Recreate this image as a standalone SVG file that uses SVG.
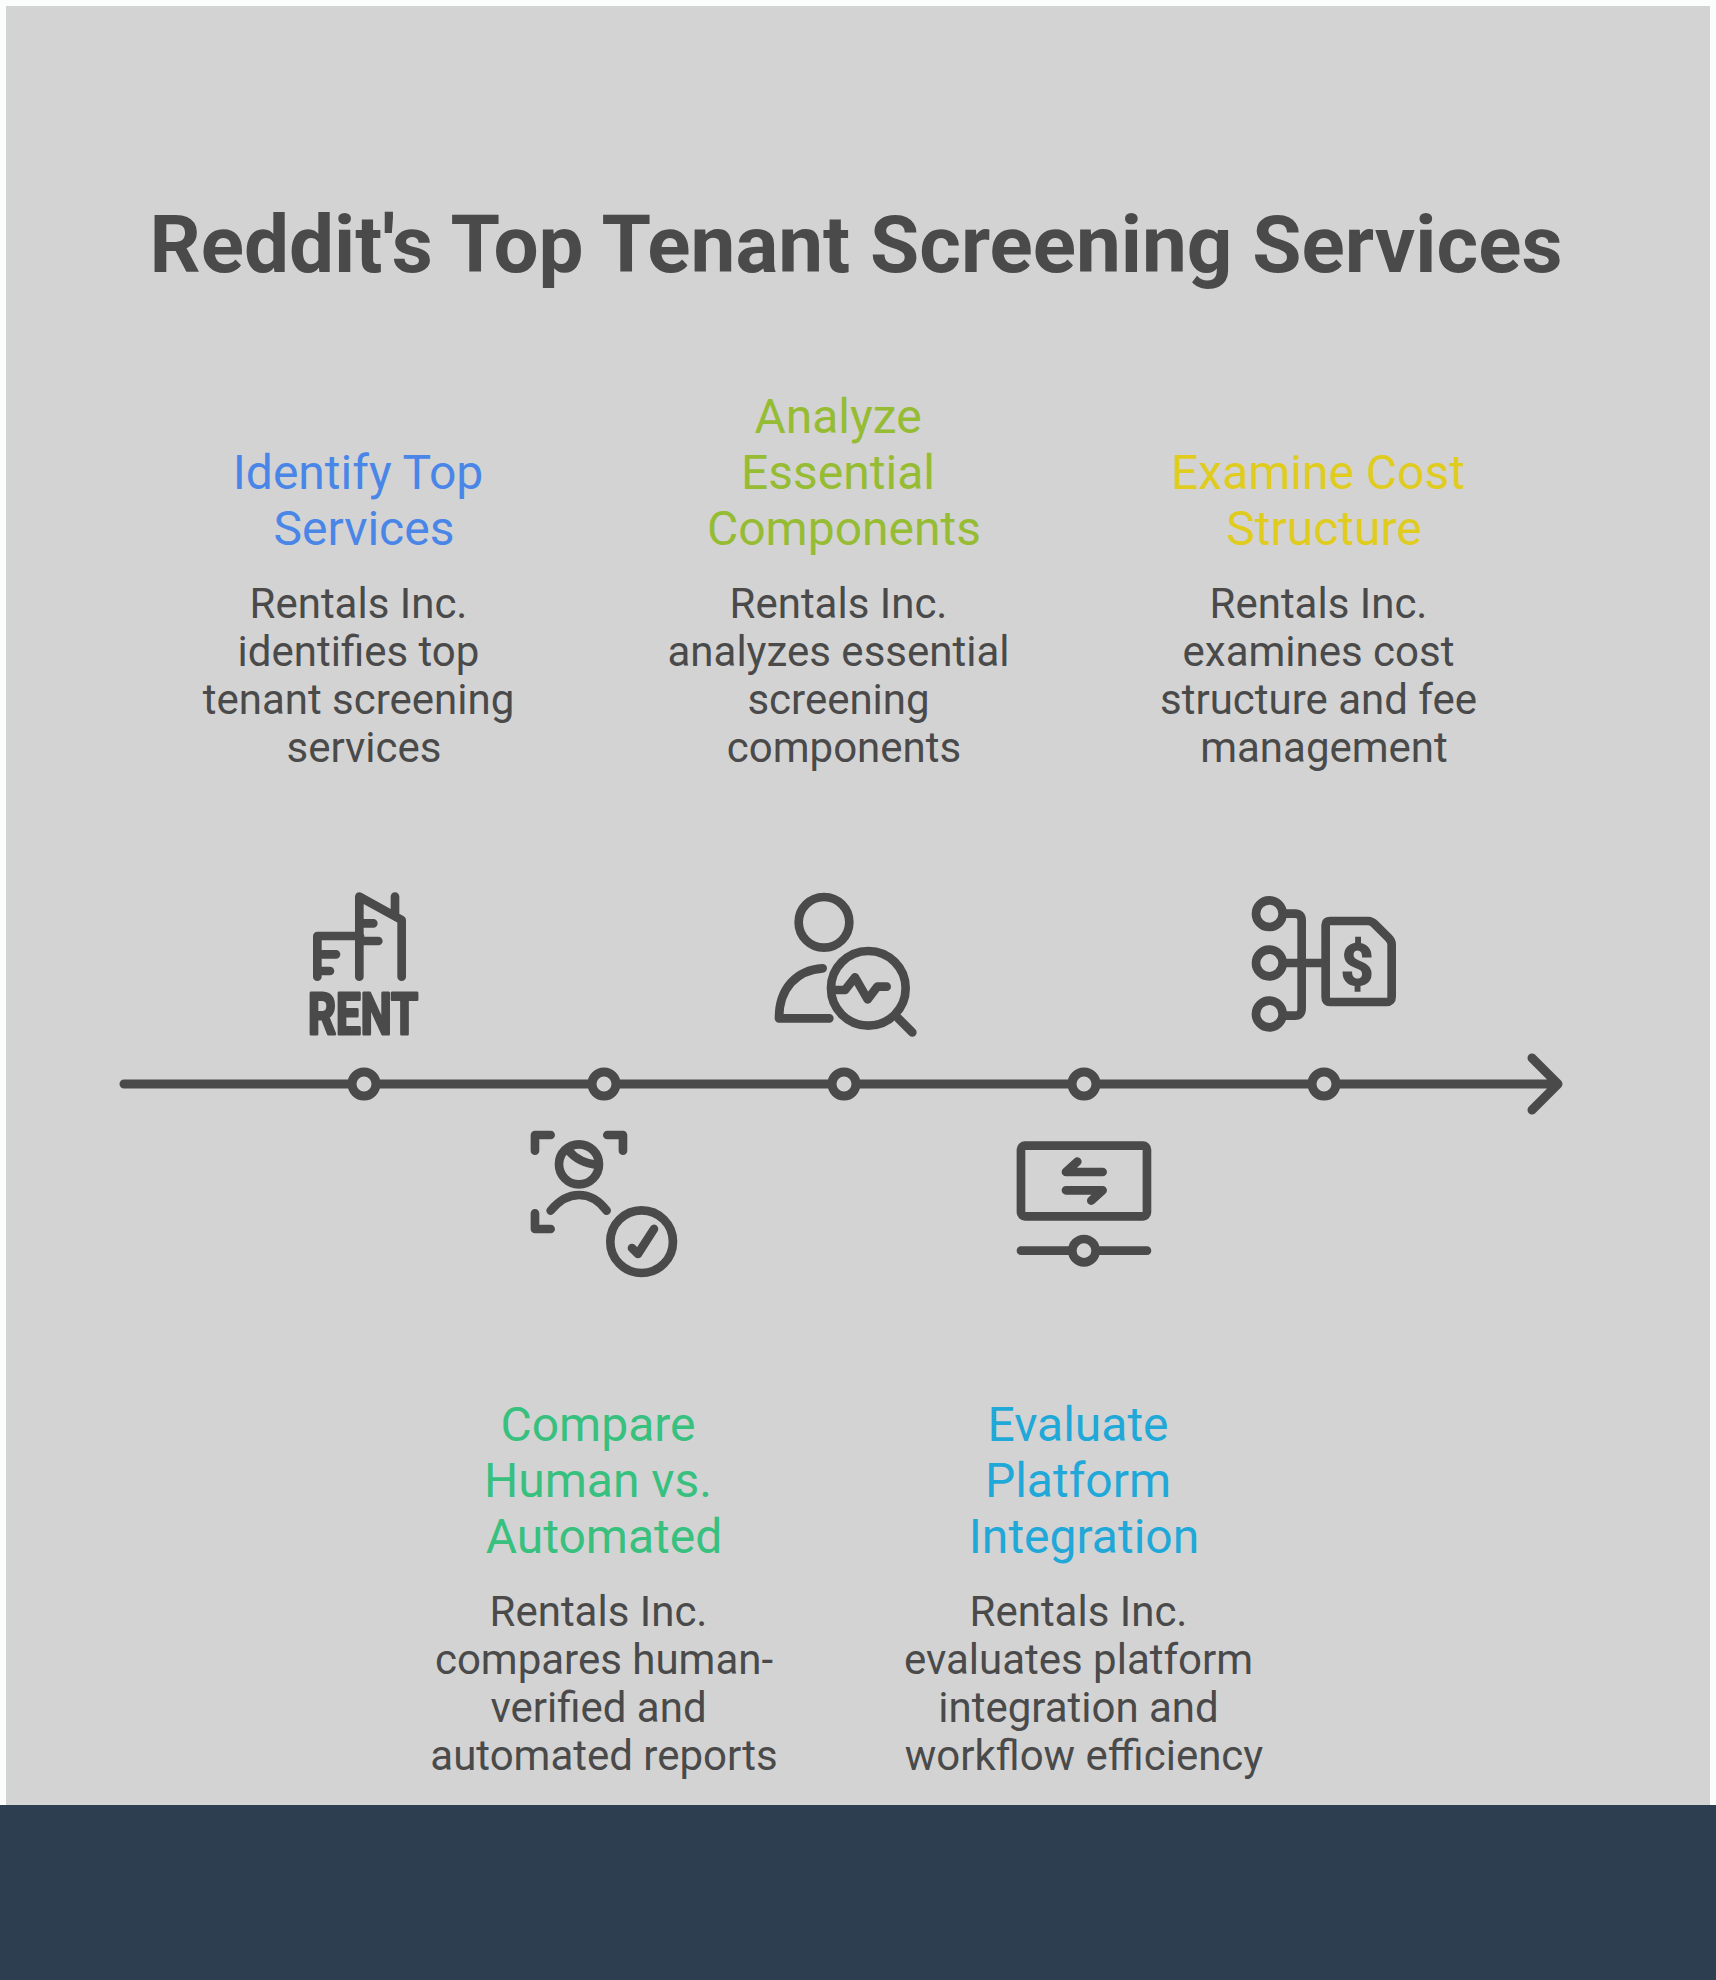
<svg xmlns="http://www.w3.org/2000/svg" width="1716" height="1980" viewBox="0 0 1716 1980">
<style>
text{font-family:Roboto,"Liberation Sans",sans-serif;text-anchor:middle}
.title{font-size:80px;font-weight:700;fill:#4a4a4a}
.h{font-size:48px}
.b{font-size:42px;fill:#4a4a4a}
.ic{fill:none;stroke:#4a4a4a;stroke-width:26;stroke-linecap:round;stroke-linejoin:round}
.ln{fill:none;stroke:#4a4a4a;stroke-width:9;stroke-linecap:round;stroke-linejoin:round}
.dot{fill:#d3d3d3;stroke:#4a4a4a;stroke-width:9}
</style>
<rect width="1716" height="1980" fill="#fbfcfc"/>
<rect x="6" y="6" width="1704" height="1800" fill="#d3d3d3"/>
<rect x="0" y="1805" width="1716" height="175" fill="#2c3e50"/>
<text class="title" x="856" y="272">Reddit's Top Tenant Screening Services</text>
<g id="connectors">
<path class="ln" d="M124 1084H1558M1532 1058L1558 1084L1532 1110"/>
</g>
<g id="node1">
<circle class="dot" cx="364" cy="1084" r="12"/>
<g transform="translate(280 860) scale(.3333)"><path class="ic" d="M112 350V228H240M112 283H168M112 333H150M238 350V110L365 180V350M345 110V160M245 190H280M240 243H295"/></g>
<text x="363" y="1034" font-size="57" font-weight="700" fill="#4a4a4a" stroke="#4a4a4a" stroke-width="3" stroke-linejoin="round" textLength="110" lengthAdjust="spacingAndGlyphs">RENT</text>
<text class="h" fill="#4a86e8"><tspan x="358" y="488.500">Identify Top</tspan><tspan x="364" y="544.500">Services</tspan></text>
<text class="b"><tspan x="358.500" y="618">Rentals Inc.</tspan><tspan x="358.500" y="666">identifies top</tspan><tspan x="358.500" y="714">tenant screening</tspan><tspan x="364" y="762">services</tspan></text>
</g>
<g id="node2">
<circle class="dot" cx="604" cy="1084" r="12"/>
<g transform="translate(280 860) scale(.3333)"><path class="ic" stroke-linejoin="miter" d="M765 872V825H812M982 825H1029V872M765 1060V1107H812"/><circle class="ic" cx="897" cy="913" r="60"/><path class="ic" d="M866 872Q895 908 952 915M812 1052Q850 1005 897 1005Q945 1005 980 1052"/><circle class="ic" cx="1085" cy="1145" r="94"/><path class="ic" d="M1056 1164L1074 1182L1122 1107"/></g>
<text class="h" fill="#38c07f"><tspan x="598" y="1440.500">Compare</tspan><tspan x="598" y="1496.500">Human vs.</tspan><tspan x="604" y="1552.500">Automated</tspan></text>
<text class="b"><tspan x="598.500" y="1626">Rentals Inc.</tspan><tspan x="604" y="1674">compares human-</tspan><tspan x="598.500" y="1722">verified and</tspan><tspan x="604" y="1770">automated reports</tspan></text>
</g>
<g id="node3">
<circle class="dot" cx="844" cy="1084" r="12"/>
<g transform="translate(740 860) scale(.3333)"><circle class="ic" cx="252" cy="187" r="76"/><path class="ic" d="M248 325C170 330 117 385 117 475H268"/><circle class="ic" cx="385" cy="385" r="112"/><path class="ic" d="M475 475L517 517M285 390H315L345 352L383 418L412 380H440"/></g>
<text class="h" fill="#96bc33"><tspan x="838" y="432.500">Analyze</tspan><tspan x="838" y="488.500">Essential</tspan><tspan x="844" y="544.500">Components</tspan></text>
<text class="b"><tspan x="838.500" y="618">Rentals Inc.</tspan><tspan x="838.500" y="666">analyzes essential</tspan><tspan x="838.500" y="714">screening</tspan><tspan x="844" y="762">components</tspan></text>
</g>
<g id="node4">
<circle class="dot" cx="1084" cy="1084" r="12"/>
<g transform="translate(740 860) scale(.3333)"><rect class="ic" x="843" y="857" width="378" height="212" rx="12"/><path class="ic" d="M1088 936H978L1012 905M978 991H1088L1054 1022M843 1172H988M1076 1172H1221"/><circle class="ic" cx="1032" cy="1172" r="35"/></g>
<text class="h" fill="#1fa8d8"><tspan x="1078" y="1440.500">Evaluate</tspan><tspan x="1078" y="1496.500">Platform</tspan><tspan x="1084" y="1552.500">Integration</tspan></text>
<text class="b"><tspan x="1078.500" y="1626">Rentals Inc.</tspan><tspan x="1078.500" y="1674">evaluates platform</tspan><tspan x="1078.500" y="1722">integration and</tspan><tspan x="1084" y="1770">workflow efficiency</tspan></text>
</g>
<g id="node5">
<circle class="dot" cx="1324" cy="1084" r="12"/>
<g transform="translate(1180 860) scale(.3333)"><circle class="ic" cx="268" cy="161" r="40"/><circle class="ic" cx="268" cy="309" r="40"/><circle class="ic" cx="268" cy="462" r="40"/><path class="ic" d="M318 161H345Q365 161 365 181V445Q365 467 345 467H318M318 309H430M437 195Q437 183 450 183H565Q575 183 585 193L625 233Q635 243 635 253V410Q635 426 620 426H450Q437 426 437 412Z"/></g>
<text x="1357" y="985" font-size="57" font-weight="700" fill="#4a4a4a" stroke="#4a4a4a" stroke-width="1.500">$</text>
<text class="h" fill="#e0cc1f"><tspan x="1318" y="488.500">Examine Cost</tspan><tspan x="1324" y="544.500">Structure</tspan></text>
<text class="b"><tspan x="1318.500" y="618">Rentals Inc.</tspan><tspan x="1318.500" y="666">examines cost</tspan><tspan x="1318.500" y="714">structure and fee</tspan><tspan x="1324" y="762">management</tspan></text>
</g>
</svg>
